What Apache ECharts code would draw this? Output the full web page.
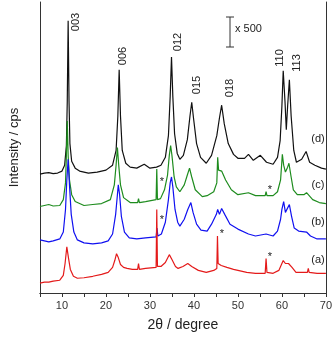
<!DOCTYPE html>
<html>
<head>
<meta charset="utf-8">
<script src="https://cdn.jsdelivr.net/npm/echarts@6/dist/echarts.min.js"></script>
<style>
  html, body { margin: 0; padding: 0; background: #fff; }
  #chart { width: 335px; height: 337px; }
</style>
</head>
<body>
<div id="chart"></div>
<script>
// 2θ (degree) / intensity (arbitrary, offset per pattern)
const patternD = [[5,121],[6,122],[7,122.5],[8,121.5],[9,122],[10,124],[10.6,130],[11.0,150],[11.2,195],[11.4,277],[11.6,195],[11.8,152],[12.2,134],[13,127],[14,124],[16,122],[18,123],[20,125],[21.5,130],[22.3,145],[22.7,180],[23.0,227],[23.3,180],[23.7,145],[24.5,132],[25.5,128],[27,127],[28.7,131],[30,127],[31.5,128],[32.5,130],[33.5,138],[34.2,160],[34.6,200],[34.9,240],[35.2,200],[35.6,162],[36.2,142],[36.8,136],[37.6,140],[38.5,156],[39.1,180],[39.5,194],[39.9,178],[40.6,152],[41.5,138],[42.8,132],[44,140],[45.2,160],[45.8,178],[46.3,191],[46.9,172],[47.8,152],[49,141],[50,137],[51.5,137],[52.4,141],[53.5,135],[55.1,140],[56.5,133],[58,131],[59,138],[59.6,155],[60.0,190],[60.3,226],[60.7,195],[61.0,166],[61.3,190],[61.7,217],[62.1,180],[62.7,145],[63.3,133],[64.5,136],[65.5,144],[66.3,133],[67.5,130],[69,127],[70,126]];
const patternC = [[5,88],[6,89],[7,90],[8,88.5],[9.5,89],[10.3,95],[10.8,112],[11.0,140],[11.2,175],[11.4,140],[11.7,115],[12.2,100],[13,93],[15,89],[17,90],[19,91],[21,95],[21.9,110],[22.3,130],[22.6,148],[22.9,130],[23.3,110],[24,97],[25.5,92],[27.2,92],[27.4,96],[27.6,92],[29,93],[31.4,95],[31.55,126],[31.7,95],[32.4,96],[33.3,105],[34.0,120],[34.4,140],[34.7,150],[35.0,140],[35.5,118],[36.0,108],[36.8,103],[37.8,110],[38.5,120],[39.0,127],[39.5,118],[40.3,105],[41.9,98],[43,99],[44.5,103],[45.2,112],[45.4,138],[45.6,125],[46.3,124],[47.2,115],[48.5,105],[50,100],[52.4,102],[54,99],[56.2,99],[56.4,103],[56.6,99],[58,99],[59,103],[59.7,115],[60.1,141],[60.4,130],[60.8,123],[61.3,128],[61.6,132],[62.1,118],[62.6,105],[63.5,100],[65.0,100],[65.6,102],[67,95],[68.5,92],[70,91]];
const patternB = [[5,54],[6,53],[7,52],[8,53],[9.5,55],[10.3,62],[10.8,85],[11.1,115],[11.4,136],[11.7,110],[12.1,80],[12.7,62],[13.5,54],[15,51],[17,50],[19,51],[20.5,53],[21.5,60],[22.2,80],[22.6,100],[22.8,110],[23.1,100],[23.5,78],[24.2,62],[25.3,56],[27,55],[29,56],[31.4,57],[31.6,66],[31.8,58],[32.6,60],[33.5,72],[34.2,95],[34.6,112],[34.9,118],[35.2,108],[35.7,85],[36.3,72],[36.8,68],[37.8,75],[38.6,85],[39.3,92],[39.8,82],[40.6,70],[41.6,64],[43,63],[44,70],[45.1,80],[45.4,85],[45.8,80],[46.3,86],[47.0,80],[48.2,70],[50,65],[52.4,60],[54,58],[56.4,60],[58,58],[59,63],[59.7,75],[60.0,85],[60.4,93],[60.8,82],[61.1,80],[61.7,90],[62.2,78],[62.8,66],[63.8,63],[65.6,62],[66.5,58],[68,55],[70,55]];
const patternA = [[5,10],[6,11],[7,11],[8,12],[9.5,13],[10.3,18],[10.7,30],[11.1,47],[11.5,35],[11.9,24],[12.6,17],[13.5,15],[15,15.5],[17,17],[19,19],[20.5,21],[21.5,26],[22.0,33],[22.4,40],[22.8,36],[23.3,29],[24.0,26],[24.8,25],[26,24],[27.2,24],[27.4,30],[27.6,24],[29,25],[31.4,26],[31.55,85],[31.7,27],[32.5,27],[33.5,31],[34.4,39],[35.0,34],[35.8,27],[36.4,25],[37.5,27],[38.6,30],[39.5,27],[41,23],[42.8,21],[44.5,23],[45.2,25],[45.35,58],[45.5,30],[46.2,28],[47.5,26],[49,24],[50,23],[52,21],[54,20],[56.2,20],[56.4,35],[56.6,21],[58,20],[59.3,23],[60.0,30],[60.3,33],[60.8,30],[61.5,30],[62.3,26],[63.2,21],[64.5,21],[65.8,21],[66.0,25],[66.2,21],[68,20],[70,20]];

const sampleNames = ['(d)', '(c)', '(b)', '(a)'];
const hklLabels = ['003', '006', '012', '015', '018', '110', '113'];
const scaleText = 'x 500';

const colors = ['#111111', '#1e8c1e', '#1010f0', '#e41a1a'];
const font = '"Liberation Sans", Arial, sans-serif';

const chart = echarts.init(document.getElementById('chart'));

// hkl label centres (px)
const hklPos = [[76, 22], [123, 56], [178, 42], [197, 85], [230, 88], [280, 58], [297, 63]];
const namePos = [[318, 139], [318, 185], [318, 222], [318, 260]];
const starPos = [[162, 182], [162, 220], [222, 234], [270, 190], [270, 257]];

const graphic = [];
hklLabels.forEach((t, i) => {
  graphic.push({
    type: 'text', x: hklPos[i][0], y: hklPos[i][1], rotation: Math.PI / 2,
    style: { text: t, font: '11px ' + font, fill: '#222', align: 'center', verticalAlign: 'middle' }
  });
});
sampleNames.forEach((t, i) => {
  graphic.push({
    type: 'text', x: namePos[i][0], y: namePos[i][1],
    style: { text: t, font: '11px ' + font, fill: '#222', align: 'center', verticalAlign: 'middle' }
  });
});
starPos.forEach(p => {
  graphic.push({
    type: 'text', x: p[0], y: p[1],
    style: { text: '*', font: '11px ' + font, fill: '#222', align: 'center', verticalAlign: 'middle' }
  });
});
// scale bar
graphic.push(
  { type: 'line', shape: { x1: 230, y1: 17, x2: 230, y2: 47 }, style: { stroke: '#333', lineWidth: 1 } },
  { type: 'line', shape: { x1: 226, y1: 17, x2: 234, y2: 17 }, style: { stroke: '#333', lineWidth: 1 } },
  { type: 'line', shape: { x1: 226, y1: 47, x2: 234, y2: 47 }, style: { stroke: '#333', lineWidth: 1 } },
  { type: 'text', x: 235, y: 29, style: { text: scaleText, font: '11px ' + font, fill: '#222', verticalAlign: 'middle' } }
);

const frameAxis = {
  axisLine: { show: true, lineStyle: { color: '#333', width: 1 } },
  axisTick: { show: false }, axisLabel: { show: false }, splitLine: { show: false }
};

const option = {
  animation: false,
  backgroundColor: '#fff',
  grid: { left: 35, right: 4, top: 2, bottom: 39 },
  xAxis: [
    {
      type: 'value', min: 5, max: 70, interval: 5,
      name: '2θ / degree', nameLocation: 'middle', nameGap: 25,
      nameTextStyle: { fontFamily: font, fontSize: 14, color: '#222' },
      axisLine: { lineStyle: { color: '#333', width: 1 } },
      axisTick: { length: 4, lineStyle: { color: '#333' } },
      axisLabel: {
        fontFamily: font, fontSize: 11, color: '#333', margin: 7,
        formatter: v => (v % 10 === 0 ? String(v) : '')
      },
      splitLine: { show: false }
    },
    Object.assign({ type: 'value', min: 5, max: 70, position: 'top' }, frameAxis)
  ],
  yAxis: [
    {
      type: 'value', min: 0, max: 296,
      name: 'Intensity / cps', nameLocation: 'middle', nameGap: 19,
      nameTextStyle: { fontFamily: font, fontSize: 13, color: '#222' },
      axisLine: { show: true, lineStyle: { color: '#333', width: 1 } },
      axisTick: { show: false }, axisLabel: { show: false }, splitLine: { show: false }
    },
    Object.assign({ type: 'value', min: 0, max: 296, position: 'right' }, frameAxis)
  ],
  graphic: graphic,
  series: [patternD, patternC, patternB, patternA].map((d, i) => ({
    name: sampleNames[i],
    type: 'line',
    data: d,
    showSymbol: false,
    lineStyle: { color: colors[i], width: 1.2 },
    itemStyle: { color: colors[i] }
  }))
};

chart.setOption(option);
</script>
</body>
</html>
